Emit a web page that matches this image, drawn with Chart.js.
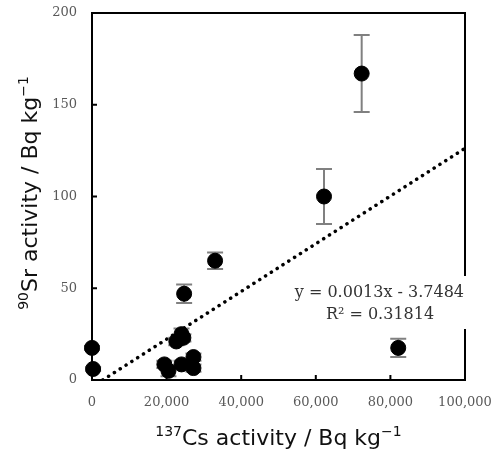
<!DOCTYPE html>
<html>
<head>
<meta charset="utf-8">
<script src="https://cdn.jsdelivr.net/npm/chart.js@4"></script>
<style>
html, body { margin: 0; padding: 0; background: #fff; }
</style>
</head>
<body>
<canvas id="myChart" width="498" height="452"></canvas>
<script>
// 137Cs activity (x) vs 90Sr activity (y), Bq/kg
var csActivity = [72300, 62200, 33000, 24700, 24000, 22600, 24500, 27200, 27200, 24000, 19400, 20500, 0, 300, 82100];
var srActivity = [167, 100, 65, 47, 25, 21, 23, 12.5, 6.5, 8.5, 8.5, 5, 17.5, 6, 17.5];
var srError = [21, 15, 4.5, 5, 3, 2, 2, 2, 2, 2, 2, 3, 1, 1, 5];

// linear fit endpoints (y = 0.0013x - 3.7484)
var trendX = [2883, 100000];
var trendY = [0, 126.25];
var fitText = ['y = 0.0013x - 3.7484', 'R\u00b2 = 0.31814'];

var xTicks = [0, 20000, 40000, 60000, 80000, 100000];
var yTicks = [0, 50, 100, 150, 200];

var points = csActivity.map(function (x, i) { return { x: x, y: srActivity[i] }; });
var trend = trendX.map(function (x, i) { return { x: x, y: trendY[i] }; });

function drawRich(ctx, parts, size, family) {
    var w = 0;
    parts.forEach(function (p) {
        ctx.font = (p.sup ? Math.round(size * 0.62) : size) + 'px ' + family;
        p.w = ctx.measureText(p.t).width;
        w += p.w;
    });
    var x = -w / 2;
    parts.forEach(function (p) {
        ctx.font = (p.sup ? Math.round(size * 0.62) : size) + 'px ' + family;
        ctx.fillText(p.t, x, p.sup ? -size * 0.42 : 0);
        x += p.w;
    });
}

var framePlugin = {
    id: 'frame',
    beforeDatasetsDraw: function (chart) {
        var ctx = chart.ctx, a = chart.chartArea;
        var xs = chart.scales.x, ys = chart.scales.y;
        ctx.save();
        // error bars
        ctx.strokeStyle = '#808080';
        ctx.lineWidth = 2;
        csActivity.forEach(function (x, i) {
            var px = xs.getPixelForValue(x);
            var top = ys.getPixelForValue(srActivity[i] + srError[i]);
            var bot = ys.getPixelForValue(srActivity[i] - srError[i]);
            ctx.beginPath();
            ctx.moveTo(px, top); ctx.lineTo(px, bot);
            ctx.moveTo(px - 8, top); ctx.lineTo(px + 8, top);
            ctx.moveTo(px - 8, bot); ctx.lineTo(px + 8, bot);
            ctx.stroke();
        });
        // plot frame
        ctx.strokeStyle = '#000';
        ctx.lineWidth = 2;
        ctx.strokeRect(a.left, a.top, a.right - a.left, a.bottom - a.top);
        // inward ticks
        ctx.beginPath();
        xTicks.slice(1, -1).forEach(function (v) {
            var p = xs.getPixelForValue(v);
            ctx.moveTo(p, a.bottom); ctx.lineTo(p, a.bottom - 5);
        });
        yTicks.slice(1, -1).forEach(function (v) {
            var p = ys.getPixelForValue(v);
            ctx.moveTo(a.left, p); ctx.lineTo(a.left + 5, p);
        });
        ctx.stroke();
        ctx.restore();
    },
    afterDatasetsDraw: function (chart) {
        var ctx = chart.ctx, a = chart.chartArea;
        ctx.save();
        // fit equation with white box
        ctx.fillStyle = '#fff';
        ctx.fillRect(288, 276, 182, 53);
        ctx.fillStyle = '#333';
        ctx.font = '16px "DejaVu Serif"';
        ctx.textAlign = 'right';
        ctx.textBaseline = 'middle';
        ctx.fillText(fitText[0], 464, 293);
        ctx.textAlign = 'center';
        ctx.fillText(fitText[1], 380, 315);

        // axis titles
        ctx.fillStyle = '#111';
        ctx.textAlign = 'left';
        ctx.textBaseline = 'alphabetic';
        ctx.save();
        ctx.translate((a.left + a.right) / 2, 445);
        drawRich(ctx, [{ t: '137', sup: true }, { t: 'Cs activity / Bq kg' }, { t: '\u22121', sup: true }], 22, '"DejaVu Sans"');
        ctx.restore();
        ctx.save();
        ctx.translate(37, 193);
        ctx.rotate(-Math.PI / 2);
        drawRich(ctx, [{ t: '90', sup: true }, { t: 'Sr activity / Bq kg' }, { t: '\u22121', sup: true }], 22, '"DejaVu Sans"');
        ctx.restore();
        ctx.restore();
    }
};

var ctx = document.getElementById('myChart').getContext('2d');

var myChart = new Chart(ctx, {
    type: 'scatter',
    data: {
        datasets: [{
            label: 'Sr-90',
            data: points,
            backgroundColor: '#000',
            borderColor: '#000',
            pointRadius: 7.5,
            pointHoverRadius: 7.5,
            clip: false,
            order: 1
        }, {
            type: 'line',
            label: 'fit',
            data: trend,
            borderColor: '#000',
            borderWidth: 3.5,
            borderDash: [0.1, 6.8],
            borderCapStyle: 'round',
            pointRadius: 0,
            fill: false,
            order: 2
        }]
    },
    options: {
        responsive: false,
        animation: false,
        layout: { padding: { left: 0, top: 13, right: 33, bottom: 0 } },
        plugins: {
            legend: { display: false },
            tooltip: { enabled: false }
        },
        scales: {
            x: {
                type: 'linear',
                min: 0,
                max: 100000,
                afterBuildTicks: function (s) { s.ticks = xTicks.map(function (v) { return { value: v }; }); },
                afterFit: function (s) { s.height = 72; s.paddingLeft = 0; s.paddingRight = 0; },
                grid: { display: false, drawTicks: false },
                border: { display: false },
                ticks: {
                    padding: 15,
                    maxRotation: 0,
                    color: '#595959',
                    font: { family: '"DejaVu Serif"', size: 13 },
                    callback: function (v) { return v.toLocaleString('en-US'); }
                }
            },
            y: {
                min: 0,
                max: 200,
                afterBuildTicks: function (s) { s.ticks = yTicks.map(function (v) { return { value: v }; }); },
                afterFit: function (s) { s.width = 92; s.paddingTop = 0; s.paddingBottom = 0; },
                grid: { display: false, drawTicks: false },
                border: { display: false },
                ticks: {
                    padding: 15,
                    color: '#595959',
                    font: { family: '"DejaVu Serif"', size: 13 }
                }
            }
        }
    },
    plugins: [framePlugin]
});
</script>
</body>
</html>
